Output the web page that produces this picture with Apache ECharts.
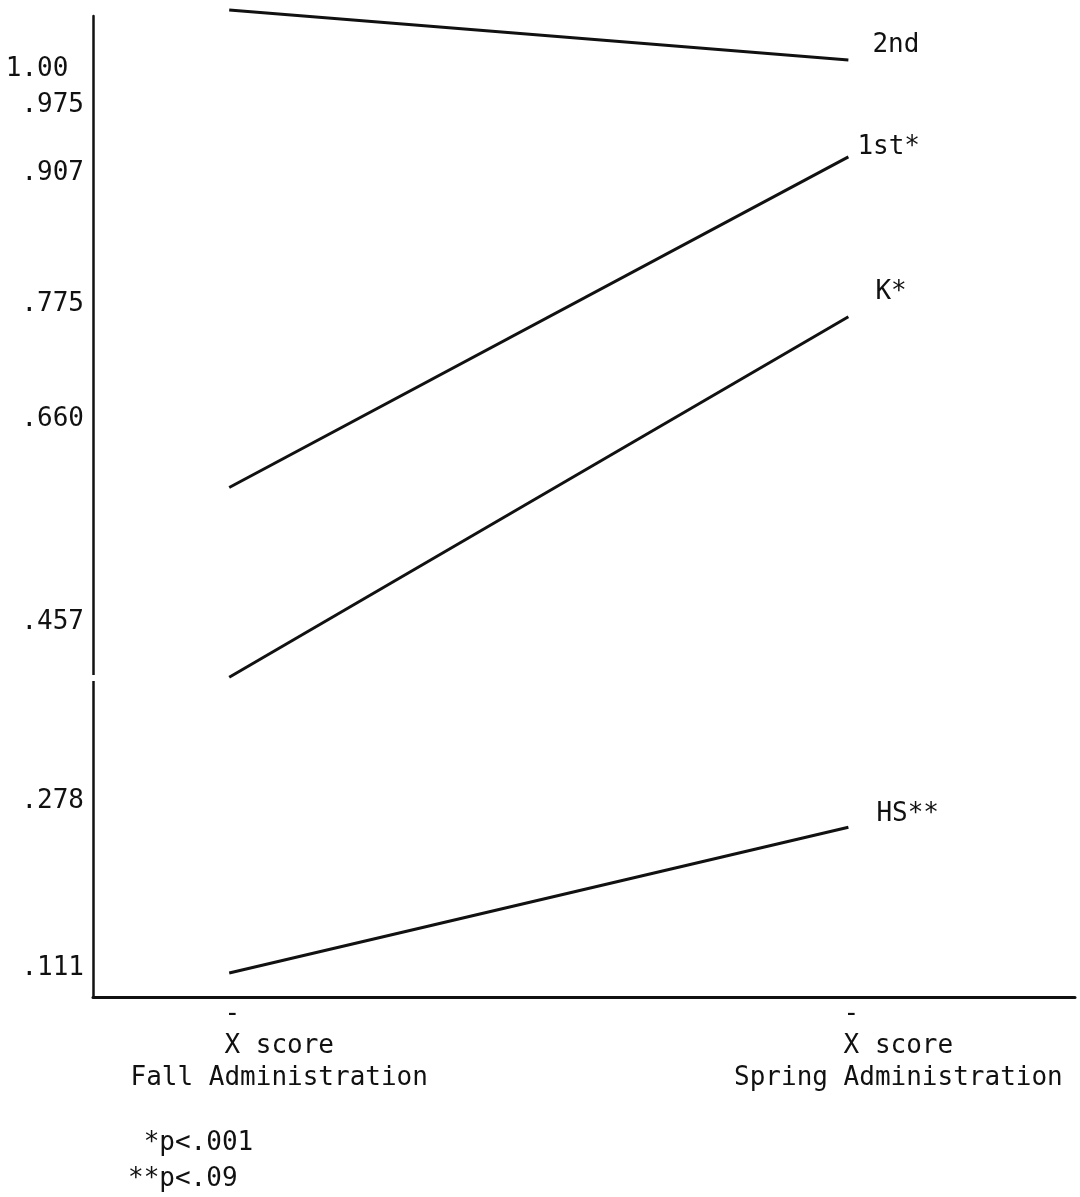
<!DOCTYPE html>
<html>
<head>
<meta charset="utf-8">
<script src="https://cdn.jsdelivr.net/npm/echarts@6/dist/echarts.min.js"></script>
<style>
  html, body { margin: 0; padding: 0; background: #fff; }
  #chart { width: 1080px; height: 1197px; }
</style>
</head>
<body>
<div id="chart"></div>
<script>
// ---- data ----
const categories = ['Fall Administration', 'Spring Administration'];
const seriesNames = ['2nd', '1st*', 'K*', 'HS**'];
const values2nd = [1.070, 1.020];
const values1st = [0.592, 0.923];
const valuesK   = [0.402, 0.763];
const valuesHS  = [0.106, 0.252];
const yTickValues = [0.111, 0.278, 0.457, 0.660, 0.775, 0.907, 0.975, 1.00];
const yTickLabels = ['.111', '.278', '.457', '.660', '.775', '.907', '.975', '1.00'];
const footnotes = [' *p<.001', '**p<.09'];

// ---- styling ----
const FONT = '"DejaVu Sans Mono", monospace';
const INK = '#111';
const endLabelOffsets = [[24, -15], [9, -10], [27, -24], [28, -13]];
const allValues = [values2nd, values1st, valuesK, valuesHS];
const Y_MIN = 0.082, Y_MAX = 1.064;

function yLabel(v) {
  let idx = 0, best = Infinity;
  yTickValues.forEach((t, k) => { const d = Math.abs(t - v); if (d < best) { best = d; idx = k; } });
  const s = yTickLabels[idx];
  return s.charAt(0) === '.' ? s : s + ' ';   // typewriter decimal alignment
}

// ticks split over two overlaid axes so that close labels are both kept
const lowerTicks = yTickValues.filter(v => v < 0.99);
const upperTicks = yTickValues.filter(v => v >= 0.99);

const chart = echarts.init(document.getElementById('chart'), null, { renderer: 'canvas' });

const series = seriesNames.map((name, i) => ({
  name: name,
  type: 'line',
  data: allValues[i].map((v, j) => [j, v]),
  symbol: 'none',
  clip: false,
  silent: true,
  lineStyle: { color: INK, width: 3 },
  endLabel: {
    show: true,
    formatter: name,
    distance: 0,
    offset: endLabelOffsets[i],
    fontFamily: FONT,
    fontSize: 26,
    color: INK
  }
}));

function yAxisDef(ticks, showLine, vAlign) {
  return {
    type: 'value',
    position: 'left',
    min: Y_MIN,
    max: Y_MAX,
    splitLine: { show: false },
    axisTick: { show: false },
    axisLine: { show: showLine, onZero: false, lineStyle: { color: INK, width: 2.5 } },
    axisLabel: {
      customValues: ticks,
      margin: 9,
      fontFamily: FONT,
      fontSize: 26,
      lineHeight: 22,
      verticalAlign: vAlign,
      color: INK,
      formatter: yLabel
    }
  };
}

chart.setOption({
  animation: false,
  backgroundColor: '#fff',
  grid: { left: 93, right: 5, top: 16, bottom: 200, containLabel: false, outerBoundsMode: 'none' },
  xAxis: {
    type: 'value',
    min: -0.22,
    max: 1.366,
    splitLine: { show: false },
    axisTick: { show: false },
    axisLine: { show: true, onZero: false, lineStyle: { color: INK, width: 3 } },
    axisLabel: {
      customValues: [0, 1],
      margin: 1,
      padding: [0, 0, 0, 100],
      fontFamily: FONT,
      fontSize: 26,
      lineHeight: 32,
      color: INK,
      align: 'center',
      formatter: function (v) {
        return '-      \nX score\n' + categories[Math.round(v)];
      }
    }
  },
  yAxis: [yAxisDef(lowerTicks, true, 'middle'), yAxisDef(upperTicks, false, 'bottom')],
  graphic: [
    { type: 'rect', shape: { x: 86, y: 675, width: 14, height: 6 }, style: { fill: '#fff' }, z: 100 },
    {
      type: 'text', left: 128, top: 1125, z: 100,
      style: { text: footnotes.join('\n'), font: '26px ' + FONT, lineHeight: 36, fill: INK }
    }
  ],
  series: series
});
</script>
</body>
</html>
